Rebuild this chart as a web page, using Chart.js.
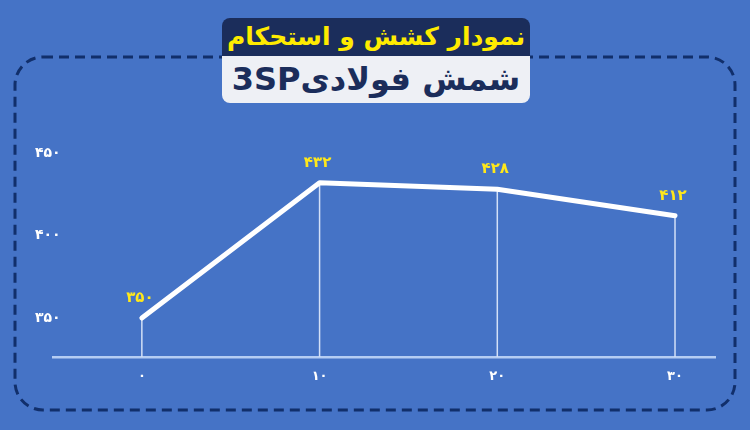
<!DOCTYPE html>
<html lang="fa">
<head>
<meta charset="utf-8">
<script src="https://cdn.jsdelivr.net/npm/chart.js@4.4.0/dist/chart.umd.min.js"></script>
<style>
body { margin: 0; background: #4573c6; }
#wrap { position: relative; width: 750px; height: 430px; background: #4573c6; overflow: hidden; }
#canva1 { position: absolute; left: 0; top: 0; }
.box { position: absolute; left: 222px; width: 308px; text-align: center; font-family: "DejaVu Sans", sans-serif; font-weight: bold; direction: rtl; }
#titr1 { top: 18px; height: 38px; line-height: 38px; background: #1b2d5b; color: #ffeb00; font-size: 25px; border-radius: 8px 8px 0 0; }
#titr2 { top: 56px; height: 47px; line-height: 47px; background: #eef0f5; color: #1b2d5b; font-size: 32px; border-radius: 0 0 8px 8px; }
</style>
</head>
<body>
<div id="wrap">
  <canvas id="canva1" width="750" height="430"></canvas>
  <div class="box" id="titr1">نمودار کشش و استحکام</div>
  <div class="box" id="titr2">شمش فولادی3SP</div>
</div>
<script>
// داده ها
var kashesh = [0, 10, 20, 30];
var estehkam = [350, 432, 428, 412];
var tick_y = [350, 400, 450];
var tick_x = [0, 10, 20, 30];

function fa(n) { // اعداد فارسی
    return String(n).replace(/[0-9]/g, function (d) { return '۰۱۲۳۴۵۶۷۸۹'[d]; });
}

var frame = { // کادر خط چین
    id: 'frame',
    beforeDraw: function (chart) {
        var ctx = chart.ctx;
        ctx.save();
        ctx.strokeStyle = '#112f6b';
        ctx.lineWidth = 3;
        ctx.setLineDash([10, 6]);
        ctx.beginPath();
        ctx.roundRect(15, 57, 720, 353, 28);
        ctx.stroke();
        ctx.restore();
    }
};

var dropLines = { // خطوط عمودی
    id: 'dropLines',
    beforeDatasetsDraw: function (chart) {
        var ctx = chart.ctx;
        var bottom = chart.chartArea.bottom;
        ctx.save();
        ctx.strokeStyle = '#d3e0f7';
        ctx.lineWidth = 1.5;
        chart.getDatasetMeta(0).data.forEach(function (p) {
            ctx.beginPath();
            ctx.moveTo(p.x, p.y);
            ctx.lineTo(p.x, bottom);
            ctx.stroke();
        });
        ctx.restore();
    }
};

var valueLabels = { // برچسب مقادیر
    id: 'valueLabels',
    afterDatasetsDraw: function (chart) {
        var ctx = chart.ctx;
        ctx.save();
        ctx.fillStyle = '#ffe81a';
        ctx.font = 'bold 15px "DejaVu Sans"';
        ctx.textAlign = 'center';
        ctx.textBaseline = 'middle';
        chart.getDatasetMeta(0).data.forEach(function (p, i) {
            ctx.fillText(fa(estehkam[i]), p.x - 2, p.y - 20);
        });
        ctx.restore();
    }
};

var ctx = document.getElementById('canva1').getContext('2d');
var myChart1 = new Chart(ctx, {
    type: 'line',
    data: {
        datasets: [{
            data: kashesh.map(function (x, i) { return { x: x, y: estehkam[i] }; }),
            borderColor: '#ffffff',
            borderWidth: 5,
            borderCapStyle: 'round',
            borderJoinStyle: 'round',
            pointRadius: 0,
            tension: 0
        }]
    },
    options: {
        responsive: false,
        animation: false,
        layout: { padding: { left: 20, right: 35, top: 153, bottom: 0 } },
        plugins: { legend: { display: false }, tooltip: { enabled: false } },
        scales: {
            x: {
                type: 'linear',
                min: -5,
                max: 32.25,
                afterBuildTicks: function (s) { s.ticks = tick_x.map(function (v) { return { value: v }; }); },
                afterFit: function (s) { s.height = 73; },
                grid: { display: false },
                border: { display: true, color: '#b5cdf3', width: 2.5 },
                ticks: {
                    color: '#ffffff',
                    padding: 4,
                    font: { family: 'DejaVu Sans', weight: 'bold', size: 13 },
                    callback: function (v) { return fa(v); }
                }
            },
            y: {
                min: 326.4,
                max: 450,
                afterBuildTicks: function (s) { s.ticks = tick_y.map(function (v) { return { value: v }; }); },
                afterFit: function (s) { s.width = 33; },
                grid: { display: false },
                border: { display: false },
                ticks: {
                    mirror: true,
                    color: '#ffffff',
                    padding: -18,
                    font: { family: 'DejaVu Sans', weight: 'bold', size: 14 },
                    callback: function (v) { return fa(v); }
                }
            }
        }
    },
    plugins: [frame, dropLines, valueLabels]
});
</script>
</body>
</html>
